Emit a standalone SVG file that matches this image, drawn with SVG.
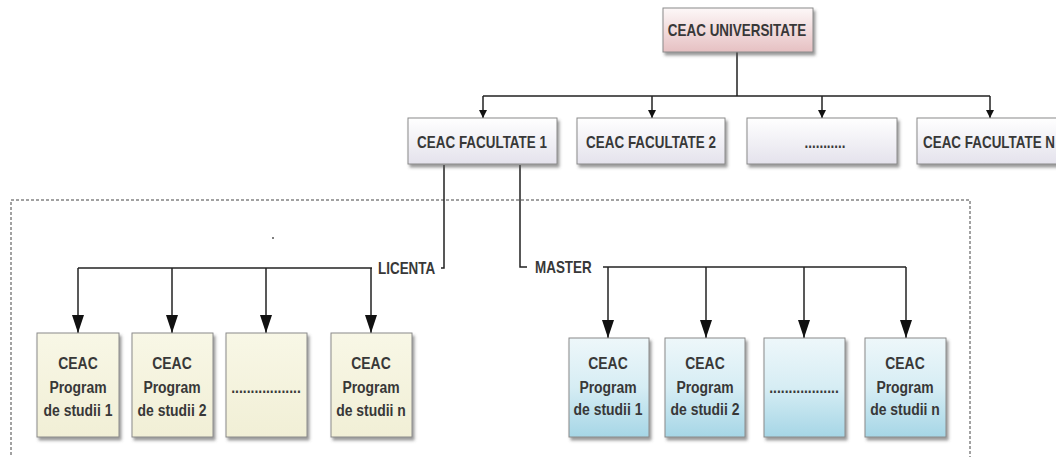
<svg xmlns="http://www.w3.org/2000/svg" width="1056" height="457" viewBox="0 0 1056 457">
<defs>
<linearGradient id="gPink" x1="0" y1="0" x2="0" y2="1"><stop offset="0" stop-color="#fdf8f8"/><stop offset="1" stop-color="#e6c0c2"/></linearGradient>
<linearGradient id="gFac" x1="0" y1="0" x2="0" y2="1"><stop offset="0" stop-color="#ffffff"/><stop offset="1" stop-color="#e4e2ec"/></linearGradient>
<linearGradient id="gCream" x1="0" y1="0" x2="0" y2="1"><stop offset="0" stop-color="#f8f7e6"/><stop offset="1" stop-color="#f1efd6"/></linearGradient>
<linearGradient id="gBlue" x1="0" y1="0" x2="0" y2="1"><stop offset="0" stop-color="#eef7fa"/><stop offset="0.5" stop-color="#d6edf4"/><stop offset="1" stop-color="#a6d6e6"/></linearGradient>
<filter id="sh" x="-10%" y="-10%" width="125%" height="130%"><feDropShadow dx="2" dy="3" stdDeviation="1.5" flood-color="#555" flood-opacity="0.6"/></filter>
<marker id="aS" viewBox="0 0 8 12" refX="8" refY="4" markerWidth="8" markerHeight="12" markerUnits="userSpaceOnUse" orient="auto"><path d="M0,0 L8,4 L0,8 z" fill="#111"/></marker>
<marker id="aL" viewBox="0 0 18 12" refX="18" refY="6" markerWidth="18" markerHeight="12" markerUnits="userSpaceOnUse" orient="auto"><path d="M0,0 L18,6 L0,12 z" fill="#111"/></marker>
</defs>
<style>
.box{stroke:#8a8a8a;stroke-width:1;filter:url(#sh)}
.t{font-family:"Liberation Sans",Arial,sans-serif;font-weight:bold;fill:#383838;text-anchor:middle;font-size:16px}
.ln{fill:none;stroke:#222;stroke-width:1.5}
.dash{fill:none;stroke:#444;stroke-width:1;stroke-dasharray:3,2}
.lab{text-anchor:start}
</style>
<path class="dash" d="M11,460 V200 H970 V460"/>
<circle cx="273" cy="238" r="1" fill="#555"/>
<g id="connectors">
<path class="ln" d="M737,52 V96 M483,96 H990"/>
<path class="ln" d="M483,96 V118" marker-end="url(#aS)"/>
<path class="ln" d="M652,96 V118" marker-end="url(#aS)"/>
<path class="ln" d="M822,96 V118" marker-end="url(#aS)"/>
<path class="ln" d="M990,96 V118" marker-end="url(#aS)"/>
<path class="ln" d="M444,165 V268 H441"/>
<path class="ln" d="M78,268 H372"/>
<path class="ln" d="M78,268 V333" marker-end="url(#aL)"/>
<path class="ln" d="M172,268 V333" marker-end="url(#aL)"/>
<path class="ln" d="M266,268 V333" marker-end="url(#aL)"/>
<path class="ln" d="M371,268 V333" marker-end="url(#aL)"/>
<path class="ln" d="M520,165 V267 H527"/>
<path class="ln" d="M603,267 H906"/>
<path class="ln" d="M608,267 V338" marker-end="url(#aL)"/>
<path class="ln" d="M706,267 V338" marker-end="url(#aL)"/>
<path class="ln" d="M804,267 V338" marker-end="url(#aL)"/>
<path class="ln" d="M906,267 V338" marker-end="url(#aL)"/>
<text class="t lab" transform="translate(378,274) scale(0.84,1)">LICENTA</text>
<text class="t lab" transform="translate(535,273) scale(0.84,1)">MASTER</text>
</g>
<g id="univ"><rect class="box" x="663" y="8" width="150" height="44" fill="url(#gPink)"/><text class="t" transform="translate(737,36) scale(0.84,1)">CEAC UNIVERSITATE</text></g>
<g id="fac1"><rect class="box" x="408" y="118" width="149" height="46" fill="url(#gFac)"/><text class="t" transform="translate(482,148) scale(0.84,1)">CEAC FACULTATE 1</text></g>
<g id="fac2"><rect class="box" x="577" y="118" width="148" height="46" fill="url(#gFac)"/><text class="t" transform="translate(651,148) scale(0.84,1)">CEAC FACULTATE 2</text></g>
<g id="fac3"><rect class="box" x="747" y="118" width="150" height="46" fill="url(#gFac)"/><text class="t" transform="translate(825,148) scale(0.84,1)">...........</text></g>
<g id="facN"><rect class="box" x="917" y="118" width="160" height="46" fill="url(#gFac)"/><text class="t lab" transform="translate(923,148) scale(0.84,1)">CEAC FACULTATE N</text></g>
<g id="lic1"><rect class="box" x="37" y="333" width="82" height="104" fill="url(#gCream)"/><text class="t" transform="translate(78,369) scale(0.87,1)">CEAC</text><text class="t" transform="translate(78,393) scale(0.87,1)">Program</text><text class="t" transform="translate(78,416) scale(0.87,1)">de studii 1</text></g>
<g id="lic2"><rect class="box" x="132" y="333" width="81" height="104" fill="url(#gCream)"/><text class="t" transform="translate(172,369) scale(0.87,1)">CEAC</text><text class="t" transform="translate(172,393) scale(0.87,1)">Program</text><text class="t" transform="translate(172,416) scale(0.87,1)">de studii 2</text></g>
<g id="lic3"><rect class="box" x="226" y="333" width="81" height="104" fill="url(#gCream)"/><text class="t" transform="translate(266,393) scale(0.87,1)">..................</text></g>
<g id="licN"><rect class="box" x="331" y="333" width="81" height="104" fill="url(#gCream)"/><text class="t" transform="translate(371,369) scale(0.87,1)">CEAC</text><text class="t" transform="translate(371,393) scale(0.87,1)">Program</text><text class="t" transform="translate(371,416) scale(0.87,1)">de studii n</text></g>
<g id="mas1"><rect class="box" x="569" y="338" width="80" height="99" fill="url(#gBlue)"/><text class="t" transform="translate(608,369) scale(0.87,1)">CEAC</text><text class="t" transform="translate(608,393) scale(0.87,1)">Program</text><text class="t" transform="translate(608,415) scale(0.87,1)">de studii 1</text></g>
<g id="mas2"><rect class="box" x="665" y="338" width="80" height="99" fill="url(#gBlue)"/><text class="t" transform="translate(705,369) scale(0.87,1)">CEAC</text><text class="t" transform="translate(705,393) scale(0.87,1)">Program</text><text class="t" transform="translate(705,415) scale(0.87,1)">de studii 2</text></g>
<g id="mas3"><rect class="box" x="764" y="338" width="81" height="99" fill="url(#gBlue)"/><text class="t" transform="translate(804,393) scale(0.87,1)">..................</text></g>
<g id="masN"><rect class="box" x="865" y="338" width="81" height="99" fill="url(#gBlue)"/><text class="t" transform="translate(905,369) scale(0.87,1)">CEAC</text><text class="t" transform="translate(905,393) scale(0.87,1)">Program</text><text class="t" transform="translate(905,415) scale(0.87,1)">de studii n</text></g>
</svg>
